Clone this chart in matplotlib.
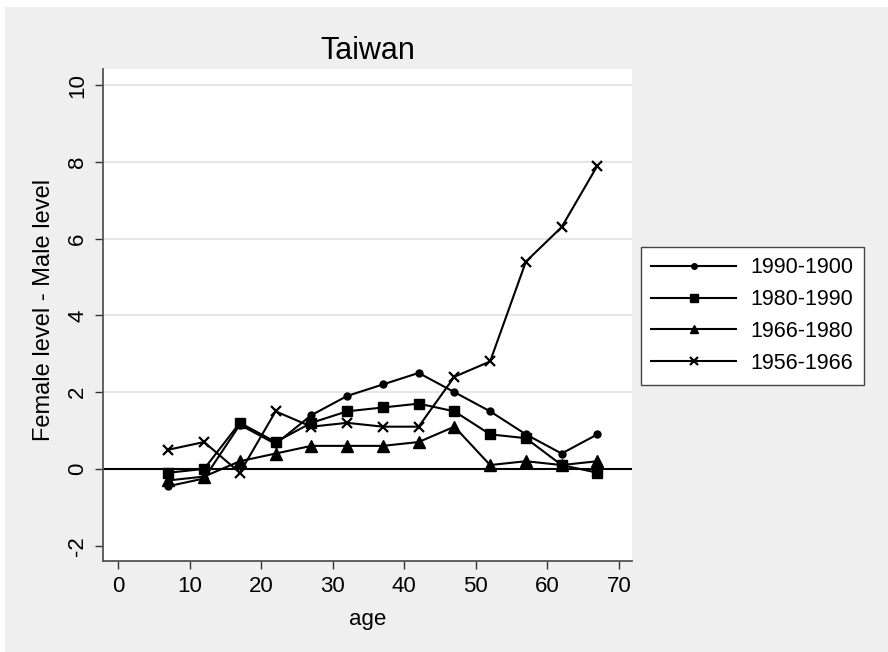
#---------------------------------------------------------------------------------
# IMPORT REQUIRED PACKAGES HERE

import matplotlib
matplotlib.use('Agg')
import matplotlib.pyplot as plt
from matplotlib.patches import Rectangle

# END OF PACKAGE IMPORT
#---------------------------------------------------------------------------------

#---------------------------------------------------------------------------------
# DATA

age = [7, 12, 17, 22, 27, 32, 37, 42, 47, 52, 57, 62, 67]

c1990_1900 = [-0.45, -0.25, 1.15, 0.65, 1.4, 1.9, 2.2, 2.5, 2.0, 1.5, 0.9, 0.4, 0.9]
c1980_1990 = [-0.1, 0.0, 1.2, 0.7, 1.2, 1.5, 1.6, 1.7, 1.5, 0.9, 0.8, 0.1, -0.1]
c1966_1980 = [-0.3, -0.2, 0.2, 0.4, 0.6, 0.6, 0.6, 0.7, 1.1, 0.1, 0.2, 0.1, 0.2]
c1956_1966 = [0.5, 0.7, -0.1, 1.5, 1.1, 1.2, 1.1, 1.1, 2.4, 2.8, 5.4, 6.3, 7.9]

series_labels = ['1990-1900', '1980-1990', '1966-1980', '1956-1966']
x_ticks = [0, 10, 20, 30, 40, 50, 60, 70]
y_ticks = [-2, 0, 2, 4, 6, 8, 10]

# END OF DATA
#---------------------------------------------------------------------------------

plt.rcParams['font.family'] = ['Liberation Sans', 'DejaVu Sans']
plt.rcParams['axes.unicode_minus'] = False

W, H = 888, 652
fig = plt.figure(figsize=(W / 100, H / 100), dpi=100, facecolor='white')

# stata-like gray graph region (small white strip on top / left edge)
fig.patches.append(Rectangle((5 / W, 0), 1, (H - 7) / H, transform=fig.transFigure,
                             facecolor='#efefef', edgecolor='none', zorder=-10))

ax = fig.add_axes([103.3 / W, 1 - 561 / H, (631.7 - 103.3) / W, (561 - 69) / H])
ax.set_facecolor('white')

# grid lines and zero line
for yv in y_ticks:
    if yv > 0:
        ax.axhline(yv, color='#e6e6e6', lw=1.4, zorder=1)
ax.axhline(0, color='black', lw=1.5, zorder=2)

series = [c1990_1900, c1980_1990, c1966_1980, c1956_1966]
markers = [('o', 5, 1), ('s', 7, 1), ('^', 8, 1), ('x', 6.5, 1.6)]
for vals, lab, (m, ms, mew) in zip(series, series_labels, markers):
    ax.plot(age, vals, color='black', lw=1.5, marker=m, ms=ms, mew=mew,
            mfc='black', mec='black', label=lab, zorder=3)

ax.set_xlim(-2.1, 71.8)
ax.set_ylim(-2.4, 10.42)
ax.set_xticks(x_ticks)
ax.set_yticks(y_ticks)

for side in ['top', 'right']:
    ax.spines[side].set_visible(False)
for side in ['left', 'bottom']:
    ax.spines[side].set_color('#555555')
    ax.spines[side].set_linewidth(1.3)

ax.tick_params(axis='both', direction='out', length=6, width=1, color='#333333',
               labelsize=16, pad=5)
for lbl in ax.get_yticklabels():
    lbl.set_rotation(90)
    lbl.set_va('center')

ax.set_title('Taiwan', fontsize=22, pad=7)
ax.set_xlabel('age', fontsize=16)
ax.set_ylabel('Female level - Male level', fontsize=17)
ax.xaxis.set_label_coords(0.5, -0.098)
ax.yaxis.set_label_coords(-0.092, 0.51)

leg = ax.legend(loc='upper left', bbox_to_anchor=(640.7 / W, 1 - 246.7 / H),
                bbox_transform=fig.transFigure, borderaxespad=0, fontsize=15.5,
                handlelength=3.95, handletextpad=0.65, labelspacing=0.5,
                borderpad=0.5, fancybox=False, framealpha=1, markerscale=0.8)
leg.get_frame().set_edgecolor('#444444')
leg.get_frame().set_linewidth(1.0)

fig.savefig('out.png', dpi=100, facecolor=fig.get_facecolor())
